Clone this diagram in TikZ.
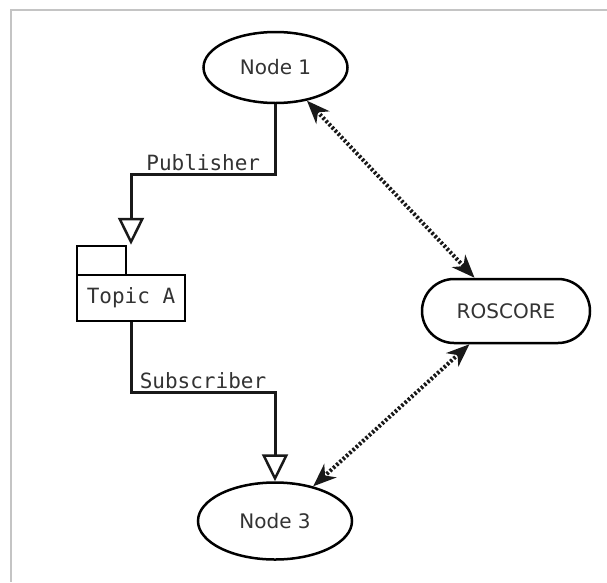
\documentclass[tikz,border=0pt]{standalone}
\usepackage{fontspec}
\setmainfont{DejaVu Sans}
\newfontfamily\mymono{DejaVu Sans Mono}
\usetikzlibrary{shapes.geometric,shapes.misc,arrows.meta}
\definecolor{txt}{HTML}{333333}
\definecolor{framegray}{HTML}{C4C4C4}
\begin{document}
\begin{tikzpicture}[x=1pt,y=-1pt,
  every node/.style={text=txt},
  procnode/.style={draw=black, line width=2.5pt, ellipse, inner sep=0pt, font=\fontsize{20}{24}\selectfont},
  corenode/.style={draw=black, line width=2.5pt, rounded rectangle, inner sep=0pt, font=\fontsize{20}{24}\selectfont},
  pkgbox/.style={draw=black, line width=2.5pt, rectangle, inner sep=0pt},
  flow/.style={draw=black!90, line width=3pt, -{Triangle[length=27pt, width=26pt, fill=white, line width=2.5pt]}},
  rpc/.style={draw=black!90, line width=4pt, dash pattern=on 2.4pt off 2pt, {Stealth[length=23pt, width=18pt, inset=7pt]}-{Stealth[length=23pt, width=18pt, inset=7pt]}},
  flowlabel/.style={font=\mymono\fontsize{21}{24}\selectfont, anchor=base, inner sep=0pt, yshift=4pt},
  framestyle/.style={draw=framegray, line width=2pt}
]
\useasboundingbox (0,0) rectangle (607,582);
\fill[white] (0,0) rectangle (607,582);
\coordinate (fr0) at (607,10);
\coordinate (fr1) at (11,10);
\coordinate (fr2) at (11,582);
\draw[framestyle] (fr0) -- (fr1) -- (fr2);

\node[procnode, minimum width=144pt, minimum height=71pt] (n1) at (275.5,67.5) {Node 1};
\node[procnode, minimum width=154pt, minimum height=77pt] (n3) at (275,521) {Node 3};
\node[corenode, minimum width=168pt, minimum height=64pt] (ros) at (506,311) {ROSCORE};

\node[pkgbox, minimum width=49pt, minimum height=29pt] (tab) at (101.5,260.5) {};
\node[pkgbox, minimum width=108pt, minimum height=46pt, font=\mymono\fontsize{21}{24}\selectfont] (topic) at (131,298) {Topic A};

\coordinate (pubturn) at (131,174);
\coordinate (subturn) at (275,392);

\draw[flow] (n1.south) |- node[flowlabel, pos=0.75] {Publisher} (pubturn) -- (pubturn |- tab.north);
\draw[flow] (topic.south) |- node[flowlabel, pos=0.75] {Subscriber} (subturn) -- (n3.north);

\draw[rpc] (n1) -- (ros);
\draw[rpc] (ros) -- (n3);
\end{tikzpicture}
\end{document}
